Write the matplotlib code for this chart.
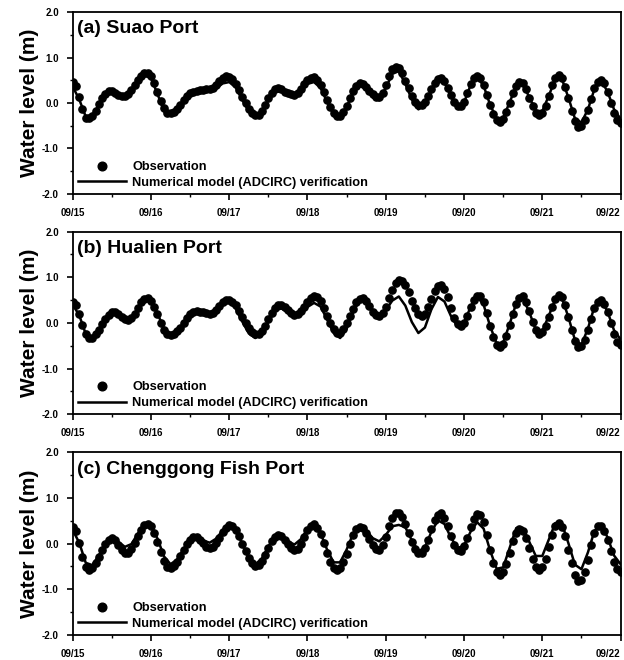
import numpy as np
import matplotlib
matplotlib.use('Agg')
import matplotlib.pyplot as plt
from matplotlib.ticker import MultipleLocator

# hourly observations from 09/15 00:00 to 09/22 00:00
suao_obs = [0.47, 0.38, 0.14, -0.14, -0.32, -0.33, -0.28, -0.17, -0.03, 0.10,
            0.20, 0.26, 0.26, 0.23, 0.18, 0.15, 0.15, 0.19, 0.28, 0.39,
            0.51, 0.60, 0.66, 0.66, 0.59, 0.45, 0.25, 0.05, -0.12, -0.21,
            -0.23, -0.19, -0.13, -0.04, 0.06, 0.15, 0.22, 0.25, 0.27, 0.28,
            0.29, 0.30, 0.31, 0.34, 0.40, 0.49, 0.56, 0.60, 0.58, 0.52,
            0.42, 0.28, 0.14, -0.01, -0.13, -0.22, -0.27, -0.26, -0.18, -0.05,
            0.10, 0.23, 0.31, 0.32, 0.30, 0.25, 0.21, 0.19, 0.18, 0.23,
            0.31, 0.41, 0.50, 0.56, 0.57, 0.51, 0.40, 0.24, 0.07, -0.09,
            -0.21, -0.28, -0.28, -0.20, -0.06, 0.10, 0.27, 0.38, 0.43, 0.41,
            0.35, 0.27, 0.19, 0.13, 0.13, 0.22, 0.40, 0.60, 0.75, 0.80,
            0.76, 0.65, 0.49, 0.32, 0.15, 0.02, -0.05, -0.05, 0.02, 0.15,
            0.31, 0.44, 0.53, 0.55, 0.48, 0.34, 0.18, 0.03, -0.07, -0.07,
            0.03, 0.21, 0.41, 0.55, 0.60, 0.54, 0.39, 0.18, -0.05, -0.25,
            -0.38, -0.42, -0.36, -0.20, 0.01, 0.22, 0.38, 0.46, 0.43, 0.30,
            0.12, -0.06, -0.21, -0.27, -0.22, -0.06, 0.16, 0.39, 0.56, 0.62,
            0.55, 0.36, 0.10, -0.17, -0.40, -0.52, -0.51, -0.38, -0.16, 0.09,
            0.32, 0.47, 0.51, 0.43, 0.24, 0.01, -0.22, -0.38, -0.44]
hualien_obs = [0.46, 0.39, 0.19, -0.05, -0.25, -0.34, -0.32, -0.25, -0.15, -0.03,
               0.09, 0.18, 0.23, 0.23, 0.20, 0.14, 0.09, 0.07, 0.10, 0.20,
               0.33, 0.45, 0.53, 0.55, 0.48, 0.36, 0.19, 0.00, -0.15, -0.25,
               -0.27, -0.24, -0.18, -0.10, 0.00, 0.10, 0.19, 0.24, 0.26, 0.25,
               0.23, 0.21, 0.20, 0.22, 0.28, 0.37, 0.45, 0.50, 0.51, 0.47,
               0.39, 0.27, 0.14, 0.00, -0.12, -0.20, -0.25, -0.24, -0.17, -0.06,
               0.08, 0.21, 0.32, 0.39, 0.40, 0.35, 0.28, 0.22, 0.18, 0.20,
               0.26, 0.35, 0.46, 0.54, 0.58, 0.56, 0.48, 0.33, 0.16, 0.00,
               -0.14, -0.21, -0.21, -0.14, -0.01, 0.15, 0.31, 0.45, 0.53, 0.55,
               0.49, 0.38, 0.25, 0.17, 0.15, 0.22, 0.36, 0.54, 0.72, 0.87,
               0.94, 0.93, 0.84, 0.68, 0.49, 0.32, 0.20, 0.15, 0.20, 0.34,
               0.52, 0.70, 0.81, 0.84, 0.74, 0.56, 0.33, 0.11, -0.03, -0.07,
               0.00, 0.16, 0.35, 0.51, 0.60, 0.59, 0.45, 0.22, -0.06, -0.31,
               -0.48, -0.53, -0.46, -0.29, -0.05, 0.20, 0.42, 0.55, 0.58, 0.47,
               0.26, 0.03, -0.16, -0.24, -0.20, -0.06, 0.14, 0.35, 0.52, 0.61,
               0.57, 0.40, 0.14, -0.15, -0.39, -0.52, -0.51, -0.38, -0.16, 0.09,
               0.32, 0.47, 0.51, 0.42, 0.23, -0.01, -0.25, -0.42, -0.48]
chenggong_obs = [0.37, 0.27, 0.02, -0.29, -0.52, -0.58, -0.53, -0.43, -0.29, -0.14,
                 -0.01, 0.09, 0.12, 0.08, -0.02, -0.13, -0.20, -0.20, -0.12, 0.01,
                 0.16, 0.30, 0.40, 0.44, 0.39, 0.24, 0.04, -0.18, -0.38, -0.51,
                 -0.54, -0.50, -0.41, -0.28, -0.15, -0.01, 0.09, 0.14, 0.14, 0.09,
                 0.01, -0.07, -0.10, -0.07, 0.01, 0.13, 0.25, 0.35, 0.40, 0.38,
                 0.30, 0.17, 0.00, -0.17, -0.32, -0.43, -0.48, -0.46, -0.37, -0.24,
                 -0.09, 0.05, 0.15, 0.19, 0.17, 0.09, -0.01, -0.10, -0.14, -0.11,
                 -0.01, 0.14, 0.29, 0.39, 0.42, 0.35, 0.21, 0.01, -0.21, -0.40,
                 -0.53, -0.58, -0.53, -0.40, -0.22, -0.01, 0.18, 0.31, 0.37, 0.34,
                 0.24, 0.10, -0.03, -0.12, -0.13, -0.04, 0.15, 0.38, 0.57, 0.68,
                 0.67, 0.58, 0.42, 0.23, 0.04, -0.11, -0.20, -0.20, -0.09, 0.09,
                 0.31, 0.51, 0.63, 0.66, 0.57, 0.39, 0.17, -0.03, -0.15, -0.16,
                 -0.06, 0.13, 0.36, 0.55, 0.65, 0.63, 0.47, 0.19, -0.13, -0.42,
                 -0.63, -0.69, -0.62, -0.44, -0.20, 0.05, 0.23, 0.32, 0.28, 0.13,
                 -0.09, -0.33, -0.51, -0.58, -0.52, -0.34, -0.08, 0.19, 0.38, 0.45,
                 0.37, 0.17, -0.13, -0.43, -0.68, -0.82, -0.80, -0.63, -0.36, -0.04,
                 0.23, 0.38, 0.39, 0.27, 0.07, -0.17, -0.40, -0.56, -0.62]

# ADCIRC results, every 2 hours
suao_model = [0.36, 0.08, -0.30, -0.27, -0.05, 0.16, 0.22, 0.14, 0.11, 0.24,
              0.47, 0.60, 0.55, 0.20, -0.18, -0.28, -0.16, 0.03, 0.17, 0.21,
              0.23, 0.25, 0.32, 0.43, 0.46, 0.34, 0.07, -0.18, -0.29, -0.20,
              0.07, 0.26, 0.25, 0.17, 0.15, 0.26, 0.42, 0.46, 0.33, 0.03,
              -0.24, -0.29, -0.09, 0.24, 0.40, 0.30, 0.12, 0.06, 0.33, 0.64,
              0.70, 0.42, 0.08, -0.14, -0.05, 0.28, 0.50, 0.45, 0.15, -0.09,
              0.01, 0.39, 0.57, 0.38, -0.04, -0.34, -0.33, 0.02, 0.37, 0.42,
              0.13, -0.17, -0.18, 0.16, 0.53, 0.53, 0.12, -0.34, -0.43, -0.14,
              0.31, 0.50, 0.25, -0.14, -0.35]
hualien_model = [0.40, 0.17, -0.24, -0.37, -0.21, 0.05, 0.21, 0.18, 0.07, 0.08,
                 0.29, 0.49, 0.48, 0.21, -0.13, -0.28, -0.21, -0.03, 0.15, 0.22,
                 0.19, 0.17, 0.26, 0.42, 0.46, 0.31, 0.03, -0.23, -0.33, -0.22,
                 0.03, 0.27, 0.32, 0.22, 0.15, 0.21, 0.35, 0.44, 0.36, 0.08,
                 -0.22, -0.33, -0.13, 0.24, 0.50, 0.47, 0.28, 0.17, 0.28, 0.49,
                 0.58, 0.38, 0.02, -0.22, -0.10, 0.30, 0.57, 0.47, 0.15, -0.08,
                 0.00, 0.35, 0.58, 0.40, -0.07, -0.45, -0.43, -0.02, 0.43, 0.55,
                 0.24, -0.15, -0.18, 0.16, 0.52, 0.55, 0.13, -0.37, -0.48, -0.12,
                 0.36, 0.51, 0.25, -0.16, -0.36]
chenggong_model = [0.30, 0.02, -0.42, -0.47, -0.26, 0.00, 0.12, 0.04, -0.07, -0.01,
                   0.22, 0.43, 0.41, 0.11, -0.28, -0.45, -0.35, -0.12, 0.09, 0.15,
                   0.07, 0.02, 0.11, 0.29, 0.40, 0.30, 0.00, -0.31, -0.45, -0.33,
                   -0.06, 0.16, 0.17, 0.05, -0.02, 0.10, 0.32, 0.42, 0.23, -0.13,
                   -0.41, -0.41, -0.13, 0.22, 0.38, 0.29, 0.12, 0.05, 0.19, 0.38,
                   0.41, 0.36, 0.07, -0.17, -0.08, 0.26, 0.51, 0.43, 0.13, -0.10,
                   -0.04, 0.26, 0.47, 0.33, -0.15, -0.55, -0.52, -0.09, 0.34, 0.35,
                   0.04, -0.27, -0.27, 0.09, 0.45, 0.44, 0.01, -0.46, -0.56, -0.19,
                   0.28, 0.41, 0.14, -0.26, -0.45]

titles = ['(a) Suao Port', '(b) Hualien Port', '(c) Chenggong Fish Port']
day_labels = ['09/15', '09/16', '09/17', '09/18', '09/19', '09/20', '09/21', '09/22']
y_ticks = [-2.0, -1.0, 0.0, 1.0, 2.0]

plt.rcParams['font.family'] = ['Liberation Sans', 'DejaVu Sans']
plt.rcParams['font.weight'] = 'bold'

fig = plt.figure(figsize=(6.24, 6.6), dpi=100)
boxes = [[0.1165, 0.7061, 0.878, 0.2757],
         [0.1165, 0.3723, 0.878, 0.2767],
         [0.1165, 0.0379, 0.878, 0.2768]]
obs_all = [suao_obs, hualien_obs, chenggong_obs]
model_all = [suao_model, hualien_model, chenggong_model]

for box, title, obs, model in zip(boxes, titles, obs_all, model_all):
    ax = fig.add_axes(box)
    t_obs = np.arange(len(obs))
    t_mod = np.arange(len(model)) * 2
    ax.plot(t_obs, obs, 'o', color='black', markersize=5.2, label='Observation')
    ax.plot(t_mod, model, '-', color='black', linewidth=1.8,
            label='Numerical model (ADCIRC) verification')
    ax.set_xlim(0, 168)
    ax.set_ylim(-2, 2)
    ax.set_xticks(np.arange(len(day_labels)) * 24)
    ax.set_xticklabels(day_labels)
    # last date label sits against the right edge
    ax.get_xticklabels()[-1].set_horizontalalignment('right')
    ax.xaxis.set_minor_locator(MultipleLocator(12))
    ax.set_yticks(y_ticks)
    ax.set_yticklabels(['%.1f' % v for v in y_ticks])
    ax.yaxis.set_minor_locator(MultipleLocator(0.5))
    ax.tick_params(which='major', direction='out', length=4, width=1.2,
                   labelsize=7, pad=6)
    ax.tick_params(which='minor', direction='out', length=2.5, width=1)
    for s in ax.spines.values():
        s.set_linewidth(1.3)
    ax.set_ylabel('Water level (m)', fontsize=15, fontweight='bold')
    ax.yaxis.set_label_coords(-0.062, 0.5)
    ax.text(0.007, 0.955, title, transform=ax.transAxes, fontsize=14,
            fontweight='bold', va='top', ha='left')
    ax.legend(loc='lower left', frameon=False, fontsize=9.2, handlelength=3.8,
              handletextpad=0.45, labelspacing=0.3, borderaxespad=0.1,
              borderpad=0.3, markerscale=1.2)

fig.savefig('out.png', dpi=100)
